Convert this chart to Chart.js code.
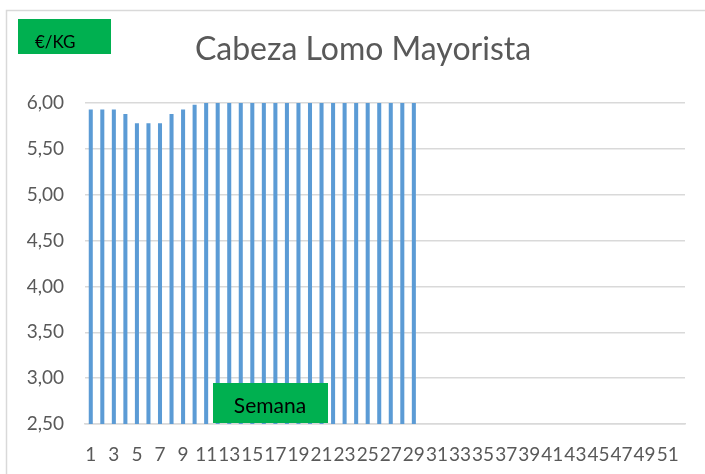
<!DOCTYPE html>
<html>
<head>
<meta charset="utf-8">
<script src="https://cdn.jsdelivr.net/npm/chart.js@4"></script>
<style>
  html, body { margin: 0; padding: 0; background: #fff; }
  #wrap { width: 705px; height: 474px; }
</style>
</head>
<body>
<div id="wrap"><canvas id="c" width="705" height="474"></canvas></div>
<script>
// semanas 1..52
var semanas = [];
for (var i = 1; i <= 52; i++) semanas.push(String(i));

// precio por semana (solo 29 semanas con dato)
var precios = [5.93, 5.93, 5.93, 5.88, 5.78, 5.78, 5.78, 5.88, 5.93, 5.98,
               6.00, 6.00, 6.00, 6.00, 6.00, 6.00, 6.00, 6.00, 6.00, 6.00,
               6.00, 6.00, 6.00, 6.00, 6.00, 6.00, 6.00, 6.00, 6.00];

var yMin = 2.5, yMax = 6.0, yStep = 0.5;
var titulo = 'Cabeza Lomo Mayorista';
var etiquetaY = '€/KG';
var etiquetaX = 'Semana';

var fuente = 'Lato, "Open Sans", sans-serif';
var gris = '#595959';
var verde = '#00B050';

var cajas = {
    id: 'cajas',
    beforeDraw(chart) {
        var ctx = chart.ctx;
        ctx.save();
        ctx.strokeStyle = '#D9D9D9';
        ctx.lineWidth = 1.5;
        ctx.strokeRect(6.5, 10.5, 720, 500);
        // titulo
        ctx.fillStyle = gris;
        ctx.font = '32px ' + fuente;
        ctx.textAlign = 'center';
        ctx.textBaseline = 'middle';
        ctx.fillText(titulo, 363, 50);
        ctx.restore();
    },
    afterDraw(chart) {
        var ctx = chart.ctx;
        ctx.save();
        ctx.fillStyle = verde;
        ctx.fillRect(18, 19, 93, 35);
        ctx.fillRect(213, 383, 115, 40);
        ctx.fillStyle = '#000';
        ctx.textBaseline = 'middle';
        ctx.textAlign = 'left';
        ctx.font = '17px ' + fuente;
        ctx.fillText(etiquetaY, 35, 43);
        ctx.textAlign = 'center';
        ctx.font = '21px ' + fuente;
        ctx.fillText(etiquetaX, 270, 406);
        ctx.restore();
    }
};

new Chart(document.getElementById('c'), {
    type: 'bar',
    data: {
        labels: semanas,
        datasets: [{
            data: precios,
            backgroundColor: '#5B9BD5',
            barPercentage: 0.35,
            categoryPercentage: 1.0
        }]
    },
    options: {
        responsive: false,
        animation: false,
        layout: { padding: { left: 0, right: 20, top: 103, bottom: 0 } },
        plugins: {
            legend: { display: false },
            tooltip: { enabled: false },
            title: { display: false }
        },
        scales: {
            x: {
                grid: { display: false, drawTicks: false },
                border: { color: '#D9D9D9', width: 1.5 },
                ticks: {
                    color: gris,
                    font: { family: fuente, size: 19 },
                    autoSkip: false,
                    maxRotation: 0,
                    padding: 19,
                    callback: function (v, i) { return (i % 2 === 0) ? semanas[i] : ''; }
                },
                afterFit: function (s) { s.height = 50; }
            },
            y: {
                min: yMin,
                max: yMax,
                grid: { color: '#D9D9D9', drawTicks: false, lineWidth: 1.5 },
                border: { display: false },
                ticks: {
                    stepSize: yStep,
                    color: gris,
                    padding: 21,
                    font: { family: fuente, size: 19 },
                    callback: function (v) { return v.toFixed(2).replace('.', ','); }
                },
                afterFit: function (s) { s.width = 85; }
            }
        }
    },
    plugins: [cajas]
});
</script>
</body>
</html>
